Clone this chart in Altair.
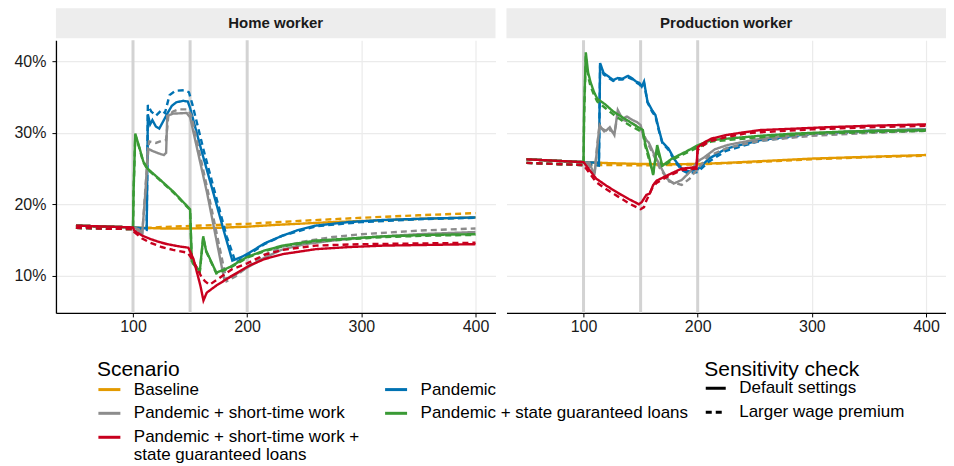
import altair as alt
import pandas as pd

FONT = "Liberation Sans"
PANELS = ["Home worker", "Production worker"]
SCENARIOS = [
    "Baseline",
    "Pandemic",
    "Pandemic + short-time work",
    "Pandemic + state guaranteed loans",
    "Pandemic + short-time work + state guaranteed loans",
]
SENS = ["Default settings", "Larger wage premium"]
COLORS = ["#E39A00", "#0072B2", "#8C8C8C", "#3A9A35", "#C8001E"]
EVENT_X = [100, 150, 200]
X_TICKS = [100, 200, 300, 400]
Y_TICKS = [0.1, 0.2, 0.3, 0.4]

# ---------- Home worker (values in %) ----------
HOME_PRE_DEF = [[50, 17.0], [60, 16.95], [70, 16.9], [80, 16.85], [90, 16.8], [100, 16.75]]
HOME_PRE_LWP = [[50, 16.7], [60, 16.65], [70, 16.6], [80, 16.55], [90, 16.55], [100, 16.5]]

HOME_BASE_DEF = [[125, 16.6], [150, 16.6], [175, 16.7], [200, 16.85], [225, 17.1], [250, 17.3],
                 [275, 17.5], [300, 17.65], [350, 17.95], [400, 18.15]]
HOME_BASE_LWP = [[125, 16.8], [150, 16.95], [175, 17.1], [200, 17.25], [250, 17.7], [300, 18.1],
                 [350, 18.45], [400, 18.75]]

HOME_PAN_DEF = [[105, 16.7], [112, 16.6], [113, 32.6], [115, 31.2], [117, 31.8], [120, 30.9],
                [123, 30.6], [126, 31.5], [130, 32.7], [134, 33.8], [138, 34.3], [144, 34.5],
                [148, 34.4], [150, 33.5], [160, 27.5], [170, 21.8], [180, 16.0], [187, 12.1],
                [195, 12.6], [202, 13.2], [215, 14.5], [231, 15.6], [245, 16.4], [260, 17.0],
                [289, 17.5], [320, 17.8], [360, 18.0], [400, 18.15]]
HOME_PAN_LWP = [[105, 16.5], [112, 16.4], [113, 33.9], [116, 33.0], [120, 32.4], [125, 33.2],
                [128, 32.8], [132, 35.3], [137, 35.9], [145, 36.0], [149, 35.7], [152, 34.0],
                [162, 27.5], [172, 21.5], [182, 15.5], [190, 11.8], [200, 12.8], [215, 14.4],
                [231, 15.6], [260, 16.9], [300, 17.5], [350, 17.9], [400, 18.1]]

HOME_STW_DEF = [[105, 16.5], [108, 15.8], [111, 22.0], [113, 27.8], [118, 27.4], [123, 27.1],
                [127, 26.9], [129, 27.2], [130, 32.4], [135, 32.7], [147, 32.8], [150, 32.2],
                [165, 21.5], [180, 9.4], [190, 10.2], [200, 11.1], [215, 12.5], [230, 13.6],
                [250, 14.4], [275, 14.9], [300, 15.3], [350, 15.8], [400, 16.1]]
HOME_STW_LWP = [[105, 16.3], [108, 15.6], [111, 22.5], [114, 28.8], [120, 28.6], [125, 28.9],
                [129, 29.0], [131, 32.5], [135, 33.0], [140, 33.3], [148, 33.3], [151, 32.5],
                [166, 21.5], [182, 9.2], [190, 9.9], [200, 11.2], [215, 12.9], [230, 14.0],
                [250, 14.8], [275, 15.4], [300, 15.8], [350, 16.3], [400, 16.6]]

HOME_SGL_DEF = [[100.5, 22.0], [102, 29.9], [105.5, 28.0], [109, 26.0], [112.7, 25.0], [124, 23.4],
                [135.7, 21.7], [150, 19.3], [151.5, 12.0], [158.5, 10.6], [161.5, 15.5], [164, 13.5],
                [173, 10.4], [185, 11.2], [200, 12.6], [215, 13.5], [231, 14.2], [260, 14.9],
                [290, 15.2], [320, 15.5], [360, 15.7], [400, 15.8]]
HOME_SGL_LWP = [[100.5, 21.8], [102, 29.7], [105.5, 27.9], [109, 25.9], [112.7, 24.9], [124, 23.3],
                [135.7, 21.6], [150, 19.2], [151.5, 11.9], [158.5, 10.5], [161.5, 15.3], [164, 13.4],
                [173, 10.3], [185, 11.1], [200, 12.5], [215, 13.4], [231, 14.1], [260, 14.8],
                [290, 15.1], [320, 15.4], [360, 15.6], [400, 15.7]]

HOME_ALL_DEF = [[101, 16.3], [108, 15.6], [115.6, 15.1], [123, 14.7], [130, 14.4], [140, 14.1],
                [148.5, 13.9], [153, 12.3], [159, 8.6], [161.7, 6.5], [164.6, 7.6], [173, 8.6],
                [185, 9.8], [202, 11.4], [215, 12.3], [231, 13.0], [260, 13.7], [290, 14.0],
                [320, 14.2], [360, 14.3], [400, 14.4]]
HOME_ALL_LWP = [[101, 16.1], [108, 15.2], [115, 14.6], [125, 14.0], [135, 13.6], [148, 13.2],
                [153, 12.0], [160, 9.8], [163, 9.2], [167, 8.7], [175, 9.6], [187, 10.9],
                [200, 11.7], [215, 12.9], [231, 13.6], [260, 14.2], [300, 14.4], [350, 14.5],
                [400, 14.6]]

# ---------- Production worker (values in %) ----------
PROD_PRE_DEF = [[50, 26.3], [75, 26.1], [100, 25.9]]
PROD_PRE_LWP = [[50, 25.8], [75, 25.65], [100, 25.5]]

PROD_BASE_DEF = [[125, 25.75], [150, 25.65], [175, 25.6], [200, 25.65], [225, 25.8], [250, 26.0],
                 [275, 26.2], [300, 26.4], [350, 26.65], [400, 26.9]]
PROD_BASE_LWP = [[125, 25.5], [150, 25.45], [175, 25.5], [200, 25.6], [250, 25.9], [300, 26.3],
                 [350, 26.6], [400, 26.8]]

PROD_PAN_DEF = [[108, 25.85], [113.5, 25.8], [114.5, 39.8], [117.6, 38.4], [122, 37.9], [126, 37.4],
                [130, 37.7], [134, 37.6], [139, 38.0], [143, 37.6], [146, 37.2], [149, 37.0],
                [151, 36.5], [153, 37.2], [156, 34.4], [160, 33.2], [163, 32.5], [166, 30.5],
                [169, 28.7], [174.5, 27.8], [180, 26.2], [186, 25.0], [192, 24.6], [200, 24.9],
                [210, 26.4], [225, 27.8], [255, 29.0], [300, 29.9], [350, 30.3], [400, 30.5]]
PROD_PAN_LWP = [[108, 25.5], [113.5, 25.4], [114.5, 39.5], [117.6, 38.2], [122, 37.7], [126, 37.3],
                [130, 37.5], [134, 37.5], [139, 37.8], [143, 37.5], [146, 37.1], [149, 36.8],
                [151, 36.4], [153, 37.0], [156, 34.3], [160, 33.0], [163, 32.3], [166, 30.3],
                [169, 28.6], [174.5, 27.6], [180, 26.0], [186, 24.8], [192, 24.3], [200, 24.5],
                [210, 26.0], [225, 27.5], [255, 28.9], [300, 29.8], [350, 30.2], [400, 30.4]]

PROD_STW_DEF = [[105, 25.85], [109.5, 24.1], [112, 28.0], [114, 31.1], [116, 30.6], [119.6, 30.3],
                [123, 30.8], [127, 29.7], [130, 33.2], [134, 32.0], [138, 32.3], [143, 31.8],
                [147, 31.5], [150, 31.1], [153, 29.2], [157, 28.7], [161, 27.3], [167, 25.4],
                [173, 23.6], [179, 22.9], [186, 23.4], [193, 24.5], [200, 26.0], [205, 26.5],
                [215, 27.7], [226, 28.3], [255, 29.2], [285, 29.7], [313, 30.0], [350, 30.3],
                [400, 30.5]]
PROD_STW_LWP = [[105, 25.5], [109.5, 23.8], [112, 28.3], [114, 31.0], [118, 30.2], [123, 30.4],
                [127, 30.0], [130, 32.5], [135, 31.8], [143, 31.3], [150, 30.6], [155, 29.0],
                [161, 27.0], [167, 25.0], [175, 23.2], [186, 22.7], [193, 23.6], [200, 25.0],
                [210, 26.8], [226, 27.9], [255, 28.9], [300, 29.6], [350, 30.0], [400, 30.3]]

PROD_SGL_DEF = [[100.5, 33.0], [102, 41.3], [104, 38.5], [106, 37.2], [109, 35.8], [112, 34.8],
                [119, 34.0], [126, 33.0], [133, 32.3], [141, 31.5], [147, 30.9], [152, 30.4],
                [154, 28.5], [157, 26.9], [161, 24.1], [164.5, 28.3], [169, 25.4], [177.5, 26.4],
                [190, 27.4], [200.5, 28.3], [212, 29.0], [226, 29.2], [255, 29.6], [284, 29.9],
                [330, 30.2], [400, 30.4]]
PROD_SGL_LWP = [[100.5, 32.0], [102, 40.8], [104, 38.0], [106, 36.6], [109, 35.4], [112, 34.4],
                [119, 33.5], [126, 32.6], [133, 31.8], [141, 31.0], [147, 30.5], [152, 30.0],
                [154, 28.2], [157, 26.5], [161, 24.3], [164.5, 27.8], [169, 25.2], [177.5, 26.2],
                [190, 27.2], [200.5, 28.0], [212, 28.8], [226, 29.0], [255, 29.4], [300, 29.9],
                [400, 30.3]]

PROD_ALL_DEF = [[111, 23.6], [120, 22.6], [130, 21.6], [140, 20.7], [148.5, 20.0], [151, 20.3],
                [155, 21.3], [158, 21.5], [161, 22.7], [164, 23.3], [174, 24.1], [186, 25.0],
                [199, 25.2], [200, 28.0], [206, 28.7], [212, 29.2], [225, 29.7], [241, 30.1],
                [255, 30.4], [285, 30.6], [313, 30.8], [350, 31.0], [400, 31.2]]
PROD_ALL_LWP = [[111, 23.1], [120, 22.1], [130, 21.1], [140, 20.1], [150, 19.3], [153, 19.6],
                [155, 20.5], [160, 22.2], [164, 23.0], [174, 23.9], [186, 24.8], [199, 25.0],
                [200, 27.6], [206, 28.4], [212, 28.9], [225, 29.4], [241, 29.9], [255, 30.1],
                [300, 30.5], [350, 30.8], [400, 31.0]]

SERIES = [
    ("Home worker", HOME_PRE_DEF, HOME_PRE_LWP,
     [HOME_BASE_DEF, HOME_PAN_DEF, HOME_STW_DEF, HOME_SGL_DEF, HOME_ALL_DEF],
     [HOME_BASE_LWP, HOME_PAN_LWP, HOME_STW_LWP, HOME_SGL_LWP, HOME_ALL_LWP]),
    ("Production worker", PROD_PRE_DEF, PROD_PRE_LWP,
     [PROD_BASE_DEF, PROD_PAN_DEF, PROD_STW_DEF, PROD_SGL_DEF, PROD_ALL_DEF],
     [PROD_BASE_LWP, PROD_PAN_LWP, PROD_STW_LWP, PROD_SGL_LWP, PROD_ALL_LWP]),
]

rows = []
for panel, pre_d, pre_l, defs, lwps in SERIES:
    for i, scen in enumerate(SCENARIOS):
        for sens, pre, pts in ((SENS[1], pre_l, lwps[i]), (SENS[0], pre_d, defs[i])):
            for x, y in pre + pts:
                rows.append({"panel": panel, "scenario": scen, "sens": sens, "x": x, "y": y / 100})
df = pd.DataFrame(rows)

W = 440
H = 273
x_scale = alt.Scale(domain=[32.5, 417.5], nice=False, zero=False)
y_scale = alt.Scale(domain=[0.0476, 0.430], nice=False, zero=False)

RED_LABEL = SCENARIOS[4]
color_legend = alt.Legend(
    orient="none", legendX=41, legendY=351, columns=2, direction="horizontal", title="Scenario",
    titleFontSize=21, titleFontWeight="normal", titleColor="black", titleFont=FONT,
    titlePadding=-3, labelFontSize=17, labelColor="black", labelFont=FONT,
    symbolType="stroke", symbolSize=484, symbolStrokeWidth=3, labelOffset=12,
    columnPadding=19, rowPadding=3, labelLimit=400,
    labelExpr="datum.label == '" + RED_LABEL + "' ? ['Pandemic + short-time work +', 'state guaranteed loans'] : datum.label",
)
dash_legend = alt.Legend(
    orient="none", legendX=649, legendY=351, title="Sensitivity check",
    titleFontSize=21, titleFontWeight="normal", titleColor="black", titleFont=FONT,
    titlePadding=-3, labelFontSize=17, labelColor="black", labelFont=FONT,
    symbolType="stroke", symbolSize=400, symbolStrokeWidth=3, symbolStrokeColor="black",
    labelOffset=12, rowPadding=4, labelLimit=400,
)


def make_panel(name, show_y):
    d = df[df.panel == name]
    x_axis = alt.Axis(values=X_TICKS, title=None, grid=True, gridColor="#EBEBEB", gridWidth=1.2,
                      domainColor="black", domainWidth=1.3, tickColor="black", tickSize=4,
                      labelFontSize=16, labelColor="#1A1A1A", labelFont=FONT, labelPadding=2)
    if show_y:
        y_axis = alt.Axis(values=Y_TICKS, format=".0%", title=None, grid=True, gridColor="#EBEBEB",
                          gridWidth=1.2, domainColor="black", domainWidth=1.3, tickColor="black",
                          tickSize=4, labelFontSize=16, labelColor="#1A1A1A", labelFont=FONT,
                          labelPadding=6)
    else:
        y_axis = alt.Axis(values=Y_TICKS, title=None, grid=True, gridColor="#EBEBEB", gridWidth=1.2,
                          labels=False, ticks=False, domain=False)
    rules = alt.Chart(pd.DataFrame({"x": EVENT_X})).mark_rule(
        color="#D3D3D3", strokeWidth=3).encode(x=alt.X("x:Q", scale=x_scale, axis=x_axis))
    lines = alt.Chart(d).mark_line(strokeWidth=2.4).encode(
        x=alt.X("x:Q", scale=x_scale, axis=x_axis),
        y=alt.Y("y:Q", scale=y_scale, axis=y_axis),
        color=alt.Color("scenario:N", scale=alt.Scale(domain=SCENARIOS, range=COLORS),
                        legend=color_legend),
        strokeDash=alt.StrokeDash("sens:N", scale=alt.Scale(domain=SENS, range=[[1, 0], [6, 4]]),
                                  legend=dash_legend),
    )
    plot = alt.layer(rules, lines).properties(width=W, height=H)
    sdf = pd.DataFrame({"t": [name]})
    strip = alt.layer(
        alt.Chart(sdf).mark_rect(color="#EDEDED").encode(
            x=alt.value(0), x2=alt.value(W), y=alt.value(0), y2=alt.value(30)),
        alt.Chart(sdf).mark_text(font=FONT, fontSize=15, fontWeight="bold", color="#1A1A1A").encode(
            x=alt.value(W / 2), y=alt.value(15), text="t:N"),
    ).properties(width=W, height=30)
    return alt.vconcat(strip, plot, spacing=0)


chart = alt.hconcat(
    make_panel("Home worker", True), make_panel("Production worker", False), spacing=11
).resolve_scale(color="shared", strokeDash="shared").properties(
    padding={"left": 5, "top": 0, "right": 0, "bottom": 0}
).configure(font=FONT, style={"guide-label": {"lineHeight": 17.5}}).configure_view(strokeWidth=0)

chart.save("out.html", embed_options={"renderer": "svg", "actions": False})
